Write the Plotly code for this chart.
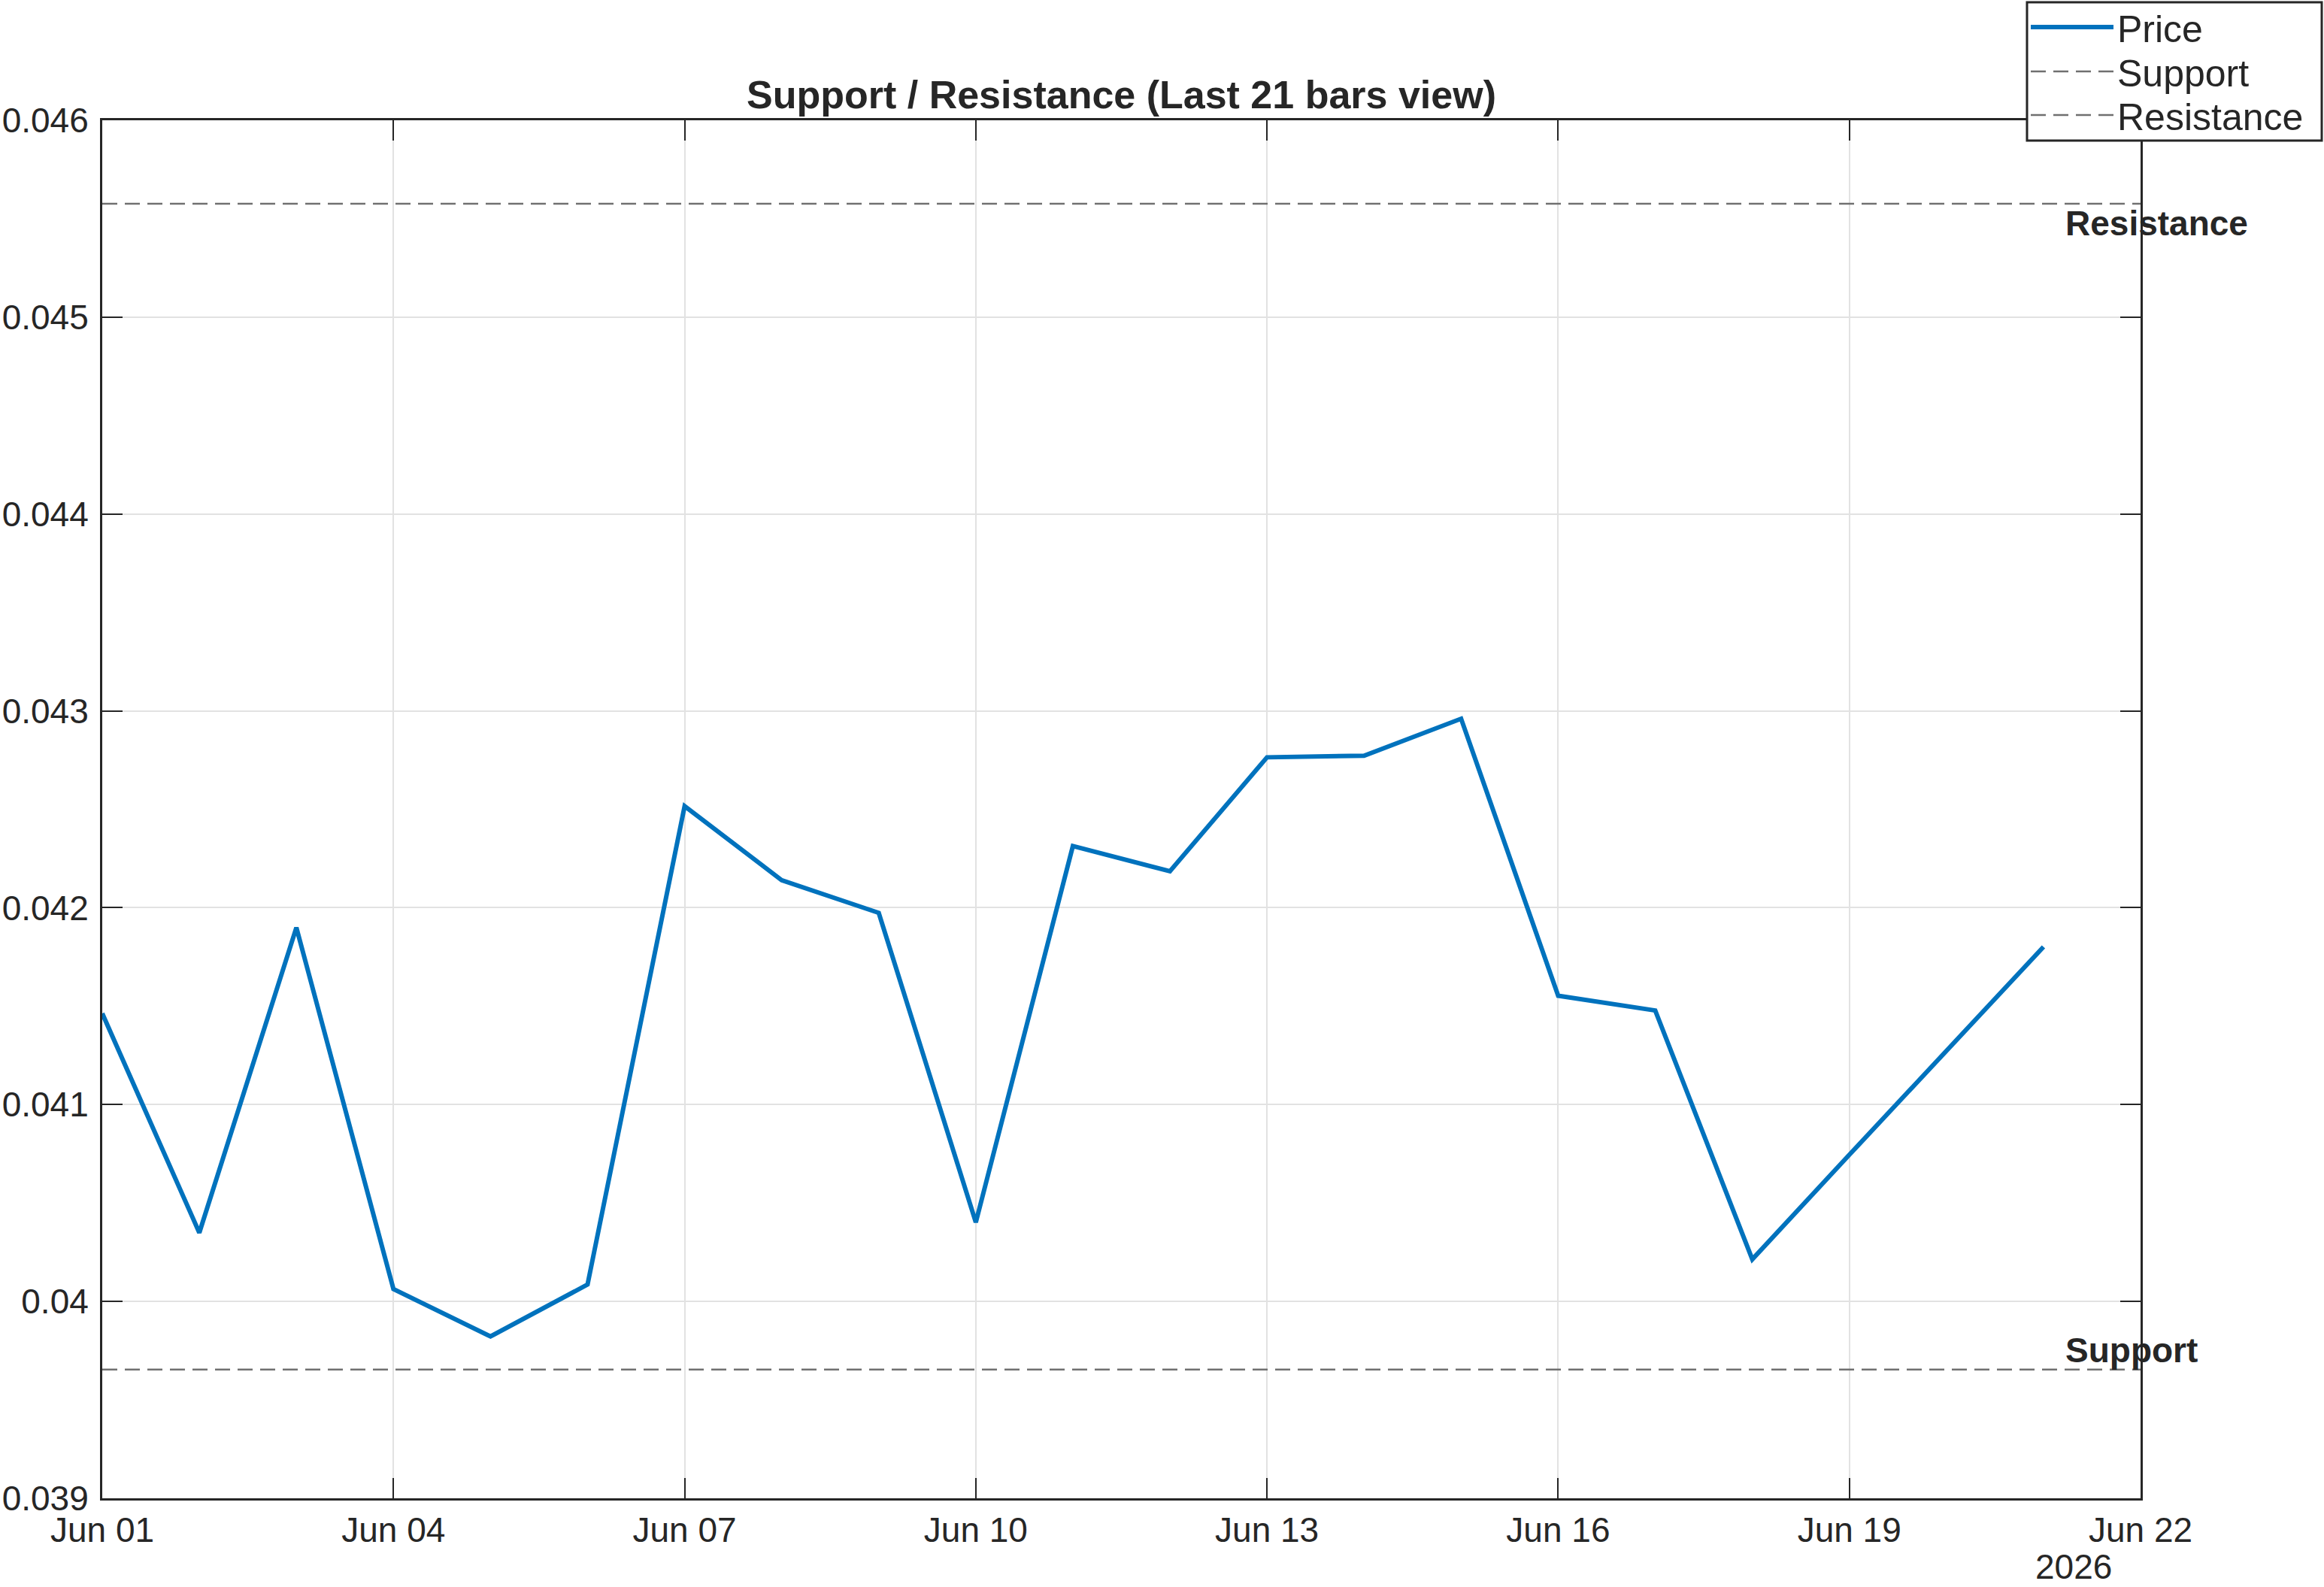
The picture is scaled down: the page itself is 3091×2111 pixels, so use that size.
from datetime import date, timedelta

import plotly.graph_objects as go

# -------------------------------------------------
#  DATA
# -------------------------------------------------

START = date(2026, 6, 1)
dates = [START + timedelta(days=i) for i in range(21)]

price = [
    0.041463, 0.040349, 0.041899, 0.040063, 0.039822, 0.040086, 0.042516,
    0.042140, 0.041974, 0.040402, 0.042313, 0.042185, 0.042764, 0.042772,
    0.042960, 0.041553, 0.041478, 0.040214, 0.040745, 0.041275, 0.041801,
]

support_level = 0.039654
resistance_level = 0.045576

x_tick_dates = [START + timedelta(days=d) for d in range(0, 22, 3)]
x_tick_text = [d.strftime("%b %d") for d in x_tick_dates]
y_tick_vals = [0.039, 0.040, 0.041, 0.042, 0.043, 0.044, 0.045, 0.046]
y_tick_text = ["0.039", "0.04", "0.041", "0.042", "0.043", "0.044", "0.045", "0.046"]

# -------------------------------------------------
#  STYLE
# -------------------------------------------------

FONT = "Liberation Sans, Arial, Helvetica, sans-serif"
BLUE = "#0072BD"
GREY = "#707070"
AXIS = "#262626"

W, H = 3091, 2111
M_L, M_R, M_T, M_B = 136, 244, 160, 118
PLOT_W, PLOT_H = W - M_L - M_R, H - M_T - M_B

x_end = START + timedelta(days=21)
label_x = "2026-06-21 05:00"

fig = go.Figure()

fig.add_trace(go.Scatter(
    x=dates, y=price, mode="lines", name="Price", legend="legend",
    line=dict(color=BLUE, width=6),
))
fig.add_trace(go.Scatter(
    x=[START, x_end], y=[support_level, support_level], mode="lines", name="Support",
    legend="legend2", line=dict(color=GREY, width=2.5, dash="20px,10px"),
))
fig.add_trace(go.Scatter(
    x=[START, x_end], y=[resistance_level, resistance_level], mode="lines", name="Resistance",
    legend="legend3", line=dict(color=GREY, width=2.5, dash="20px,10px"),
))

fig.add_annotation(
    x=label_x, y=resistance_level, text="<b>Resistance</b>", showarrow=False,
    xanchor="left", yanchor="top", yshift=2,
    font=dict(family=FONT, size=46, color=AXIS),
)
fig.add_annotation(
    x=label_x, y=support_level, text="<b>Support</b>", showarrow=False,
    xanchor="left", yanchor="bottom", yshift=-2,
    font=dict(family=FONT, size=46, color=AXIS),
)
# year label under the last tick, like the reference
fig.add_annotation(
    x=0.967, xref="paper", y=0, yref="paper", text="2026", showarrow=False,
    xanchor="center", yanchor="top", yshift=-63,
    font=dict(family=FONT, size=46, color=AXIS),
)

# legend frame (one box around the three single-entry legends)
box_l, box_r, box_t, box_b = 2696, 3088, 3, 187
fig.add_shape(
    type="rect", xref="paper", yref="paper", layer="above",
    x0=(box_l - M_L) / PLOT_W, x1=(box_r - M_L) / PLOT_W,
    y0=(H - M_B - box_b) / PLOT_H, y1=(H - M_B - box_t) / PLOT_H,
    fillcolor="white", line=dict(color=AXIS, width=3),
)

axis_common = dict(
    showline=True, linecolor=AXIS, linewidth=3, mirror="allticks",
    ticks="inside", ticklen=27, tickwidth=2, tickcolor=AXIS,
    showgrid=True, gridcolor="#e2e2e2", gridwidth=2,
    zeroline=False, automargin=False,
    tickfont=dict(family=FONT, size=46, color=AXIS),
)


def legend_row(y_center):
    return dict(
        xref="container", yref="container", x=box_l / W, y=1 - y_center / H,
        xanchor="left", yanchor="middle",
        bgcolor="rgba(0,0,0,0)", borderwidth=0,
        font=dict(family=FONT, size=50, color=AXIS),
        itemwidth=110,
    )


fig.update_layout(
    width=W, height=H,
    margin=dict(l=M_L, r=M_R, t=M_T, b=M_B, autoexpand=False),
    paper_bgcolor="white", plot_bgcolor="white",
    title=dict(
        text="<b>Support / Resistance (Last 21 bars view)</b>",
        x=0.5, xref="paper", xanchor="center",
        y=1, yref="paper", yanchor="bottom", pad=dict(b=16),
        font=dict(family=FONT, size=52, color=AXIS),
    ),
    xaxis=dict(
        axis_common, range=[START, x_end], type="date",
        tickvals=x_tick_dates, ticktext=x_tick_text,
    ),
    yaxis=dict(
        axis_common, range=[0.039, 0.046],
        tickvals=y_tick_vals, ticktext=y_tick_text,
        ticklabelstandoff=6,
    ),
    legend=legend_row(36),
    legend2=legend_row(95),
    legend3=legend_row(153),
    showlegend=True,
)

# drop the default 8px body margin so the figure fills the window exactly
fig.write_html(
    "out.html",
    config={"displayModeBar": False},
    post_script="document.body.style.margin='0';",
)
